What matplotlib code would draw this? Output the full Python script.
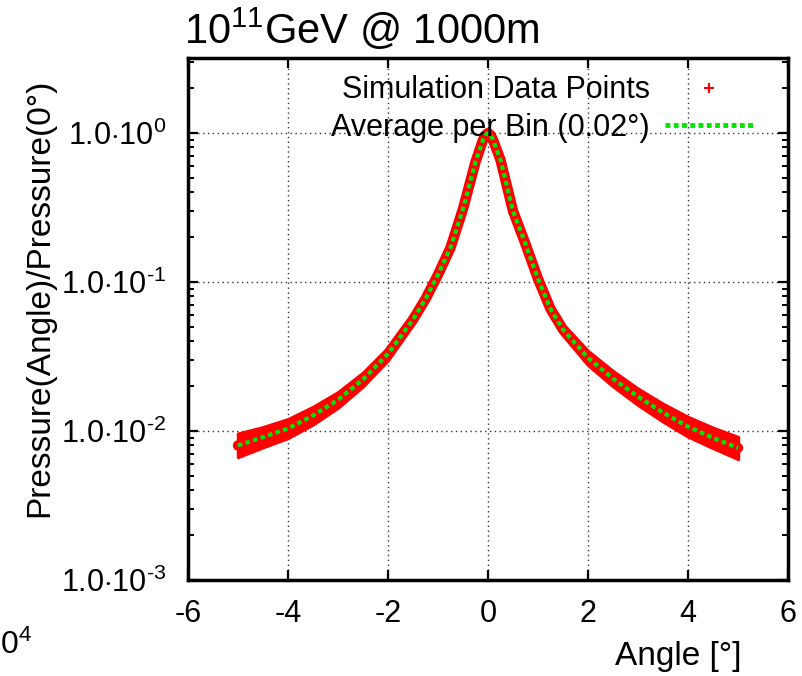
import numpy as np
import matplotlib
matplotlib.use("Agg")
import matplotlib.pyplot as plt
from matplotlib.lines import Line2D

plt.rcParams['font.family'] = ['Liberation Sans', 'DejaVu Sans']
plt.rcParams['mathtext.fontset'] = 'custom'
plt.rcParams['mathtext.rm'] = 'Liberation Sans'
plt.rcParams['mathtext.it'] = 'Liberation Sans:italic'
plt.rcParams['mathtext.bf'] = 'Liberation Sans:bold'

# values
angle = [-5, -4.5, -4, -3.5, -3, -2.5, -2, -1.5, -1.25, -1, -0.75, -0.5, -0.25, -0.1, -0.05, 0,
         0.05, 0.1, 0.25, 0.5, 0.75, 1, 1.25, 1.5, 2, 2.5, 3, 3.5, 4, 4.5, 5]
avg_ratio = [0.0080, 0.0091, 0.0104, 0.0127, 0.0162, 0.0222, 0.0330, 0.056, 0.077, 0.112,
             0.170, 0.31, 0.64, 0.90, 0.97, 1.0,
             0.97, 0.90, 0.66, 0.30, 0.18, 0.105, 0.066, 0.048, 0.031, 0.0225, 0.0170,
             0.0133, 0.0107, 0.0090, 0.0077]
# spread of the simulation points around the average (lower / upper edge)
sim_lo = [0.0067, 0.0078, 0.0090, 0.0111, 0.0144, 0.0200, 0.0300, 0.052, 0.072, 0.106,
          0.162, 0.30, 0.62, 0.88, 0.95, 0.98,
          0.95, 0.88, 0.64, 0.29, 0.171, 0.099, 0.061, 0.044, 0.0278, 0.0200, 0.0150,
          0.0116, 0.0092, 0.0077, 0.0065]
sim_hi = [0.0096, 0.0106, 0.0120, 0.0145, 0.0182, 0.0246, 0.0362, 0.060, 0.082, 0.118,
          0.178, 0.32, 0.66, 0.92, 0.99, 1.02,
          0.99, 0.92, 0.68, 0.31, 0.189, 0.111, 0.071, 0.052, 0.0344, 0.0252, 0.0192,
          0.0152, 0.0124, 0.0105, 0.0091]

xticks = [-6, -4, -2, 0, 2, 4, 6]
yticks = [1e-3, 1e-2, 1e-1, 1e0]
ylabels = [r'$\mathrm{1.0{\cdot}10^{\text{-3}}}$', r'$\mathrm{1.0{\cdot}10^{\text{-2}}}$',
           r'$\mathrm{1.0{\cdot}10^{\text{-1}}}$', r'$\mathrm{1.0{\cdot}10^{0}}$']

fig = plt.figure(figsize=(8.02, 6.76), dpi=100)
ax = fig.add_axes([188/802, 1-580/676, 600/802, 522/676])

red = '#ff0000'
green = '#00e600'
# simulation points: dense cloud drawn as a band around the bin average
ax.fill_between(angle, sim_lo, sim_hi, color=red, lw=2.5, edgecolor=red,
                joinstyle='round', zorder=2)
ax.plot(angle, avg_ratio, color=red, lw=7.5, solid_capstyle='round',
        solid_joinstyle='round', zorder=2)
ax.plot(angle, avg_ratio, color=green, lw=3, ls=(0, (1.1, 0.8)), dash_capstyle='butt', zorder=3)

ax.set_yscale('log')
ax.set_xlim(-6, 6)
ax.set_ylim(1e-3, 3.19)
ax.set_xticks(xticks)
ax.set_xticklabels([str(t) for t in xticks])
ax.set_yticks(yticks)
ax.set_yticklabels(ylabels)
ax.tick_params(which='major', direction='in', length=7, width=1.6, top=True, right=True,
               labelsize=22)
ax.tick_params(axis='y', which='major', pad=16)
ax.tick_params(axis='x', which='major', pad=14)
ax.tick_params(which='minor', direction='in', length=4, width=1.4, top=True, right=True)
ax.grid(True, which='major', ls=(0, (1, 2.5)), color='#333333', lw=1)
for s in ax.spines.values():
    s.set_linewidth(2.5)

handles = [Line2D([], [], ls='none', marker='+', ms=7, mew=1.5, color=red),
           Line2D([], [], color=green, lw=3.5, ls=(0, (1, 0.7)), dash_capstyle='butt')]
leg = ax.legend(handles, ['Simulation Data Points', r'Average per Bin (0.02°)'],
                loc='upper right', frameon=False, markerfirst=False, fontsize=22,
                handlelength=2.9, handletextpad=0.5, labelspacing=0.25,
                bbox_to_anchor=(0.963, 0.99), borderaxespad=0)

fig.text(184/802, 1-30/676, r'10$^{11}$GeV @ 1000m', fontsize=30, ha='left', va='center')
fig.text(40/802, 1-298/676, 'Pressure(Angle)/Pressure(0°)', rotation=90, fontsize=24,
         ha='center', va='center')
fig.text(678/802, 1-657/676, 'Angle [°]', fontsize=24, ha='center', va='center')
fig.text(0, 1-645/676, r'0$^{4}$', fontsize=23, ha='left', va='center')

fig.savefig('out.png', dpi=100)
